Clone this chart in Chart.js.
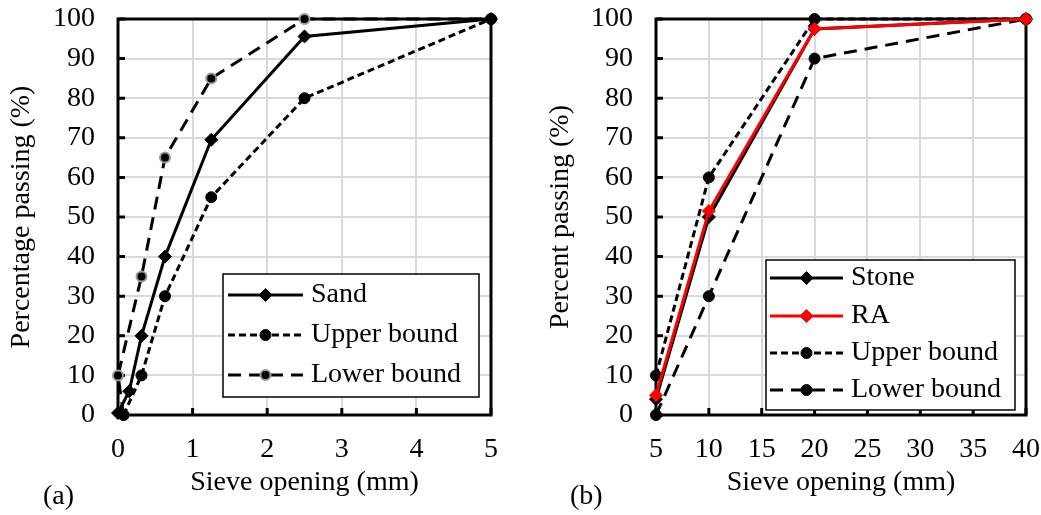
<!DOCTYPE html>
<html>
<head>
<meta charset="utf-8">
<script src="https://cdn.jsdelivr.net/npm/chart.js@4.4.0/dist/chart.umd.min.js"></script>
<style>
  html, body { margin: 0; padding: 0; background: #fff; }
  #wrap { position: relative; width: 1041px; height: 515px; overflow: hidden; }
  canvas { position: absolute; top: 0; }
  #chartA { left: 0; }
  #chartB { left: 520px; }
  .tag { position: absolute; top: 480px; font: 28px "Liberation Serif", serif; line-height: 30px; color: #000; }
</style>
</head>
<body>
<div id="wrap">
  <canvas id="chartA" width="520" height="515"></canvas>
  <canvas id="chartB" width="521" height="515"></canvas>
  <div class="tag" style="left:43px">(a)</div>
  <div class="tag" style="left:570px">(b)</div>
</div>
<script>
// Fine aggregate (sand) grading
const sandSize = [0, 0.15, 0.315, 0.63, 1.25, 2.5, 5];
const sandPass = [0.5, 6, 20, 40, 69.5, 95.6, 100];
const fineUpperSize = [0.075, 0.315, 0.63, 1.25, 2.5, 5];
const fineUpperPass = [0, 10, 30, 55, 80, 100];
const fineLowerSize = [0.075, 0, 0.315, 0.63, 1.25, 2.5, 5];
const fineLowerPass = [0, 10, 35, 65, 85, 100, 100];

// Coarse aggregate grading
const coarseSize = [5, 10, 20, 40];
const stonePass = [4, 50, 97.5, 100];
const raPass = [5, 51.5, 97.5, 100];
const coarseUpperPass = [10, 60, 100, 100];
const coarseLowerPass = [0, 30, 90, 100];

const yTicks = [0, 10, 20, 30, 40, 50, 60, 70, 80, 90, 100];

const FONT = { family: '"Liberation Serif", serif', size: 28 };
const GRID = '#d9d9d9';

const pts = (xs, ys) => xs.map((x, i) => ({ x, y: ys[i] }));

// black box round the plot area, with inward tick marks on the left and bottom
const frame = {
  id: 'frame',
  beforeDatasetsDraw(chart) {
    const { ctx, chartArea: a, scales: { x, y } } = chart;
    ctx.save();
    ctx.strokeStyle = '#000';
    ctx.lineWidth = 3;
    ctx.strokeRect(a.left, a.top, a.right - a.left, a.bottom - a.top);
    ctx.beginPath();
    y.ticks.forEach(t => {
      const py = y.getPixelForValue(t.value);
      ctx.moveTo(a.left, py); ctx.lineTo(a.left + 7, py);
    });
    x.ticks.forEach(t => {
      const px = x.getPixelForValue(t.value);
      ctx.moveTo(px, a.bottom); ctx.lineTo(px, a.bottom - 7);
    });
    ctx.stroke();
    ctx.restore();
  }
};

// boxed legend with dashed samples and a marker in the middle
const boxLegend = {
  id: 'boxLegend',
  afterDatasetsDraw(chart, args, opts) {
    const ctx = chart.ctx;
    const b = opts.box;
    ctx.save();
    ctx.fillStyle = '#fff';
    ctx.fillRect(b.left, b.top, b.right - b.left, b.bottom - b.top);
    ctx.strokeStyle = '#000';
    ctx.lineWidth = 1.5;
    ctx.strokeRect(b.left, b.top, b.right - b.left, b.bottom - b.top);
    chart.data.datasets.forEach((ds, i) => {
      const y = opts.rows[i];
      ctx.setLineDash(ds.borderDash || []);
      ctx.strokeStyle = ds.borderColor;
      ctx.lineWidth = ds.borderWidth;
      ctx.beginPath();
      ctx.moveTo(opts.x0, y);
      ctx.lineTo(opts.x1, y);
      ctx.stroke();
      ctx.setLineDash([]);
      ctx.fillStyle = ds.pointBackgroundColor;
      ctx.strokeStyle = ds.pointBorderColor;
      ctx.lineWidth = ds.pointBorderWidth;
      Chart.helpers.drawPoint(ctx, {
        pointStyle: ds.pointStyle, radius: ds.pointRadius, borderWidth: ds.pointBorderWidth, rotation: 0
      }, (opts.x0 + opts.x1) / 2, y);
      ctx.fillStyle = '#000';
      ctx.font = FONT.size + 'px ' + FONT.family;
      ctx.textBaseline = 'middle';
      ctx.textAlign = 'left';
      ctx.fillText(ds.label, opts.textX, y);
    });
    ctx.restore();
  }
};

function series(label, data, o) {
  return Object.assign({
    label, data,
    borderColor: '#000', borderWidth: 3, borderDash: [],
    pointStyle: 'circle', pointRadius: 5.5,
    pointBackgroundColor: '#000', pointBorderColor: '#000', pointBorderWidth: 1,
    pointHoverRadius: 5.5, fill: false, tension: 0, clip: false
  }, o);
}

function makeChart(id, datasets, xr, axisW, yTitle, yTitlePad, padRight, legend) {
  return new Chart(document.getElementById(id), {
    type: 'line',
    data: { datasets },
    options: {
      responsive: false,
      animation: false,
      devicePixelRatio: 1,
      layout: { padding: { top: 19, right: padRight, bottom: 0, left: 0 } },
      plugins: { legend: { display: false }, tooltip: { enabled: false }, boxLegend: legend },
      scales: {
        x: {
          type: 'linear', min: xr.min, max: xr.max,
          afterBuildTicks: s => { s.ticks = xr.ticks.map(v => ({ value: v })); },
          ticks: { color: '#000', font: FONT, padding: 18, maxRotation: 0 },
          grid: { color: GRID, lineWidth: 2, drawTicks: false },
          border: { display: false },
          title: { display: true, text: 'Sieve opening (mm)', color: '#000', font: FONT, padding: { top: 0, bottom: 16 } },
          afterFit: s => { s.height = 100; s.paddingLeft = 0; s.paddingRight = 0; }
        },
        y: {
          min: 0, max: 100,
          afterBuildTicks: s => { s.ticks = yTicks.map(v => ({ value: v })); },
          ticks: { color: '#000', font: FONT, padding: 23 },
          grid: { color: GRID, lineWidth: 2, drawTicks: false },
          border: { display: false },
          title: { display: true, text: yTitle, color: '#000', font: FONT, padding: { top: yTitlePad, bottom: 0 } },
          afterFit: s => { s.width = axisW; s.paddingTop = 0; s.paddingBottom = 0; }
        }
      }
    },
    plugins: [frame, boxLegend]
  });
}

makeChart('chartA', [
  series('Sand', pts(sandSize, sandPass), { pointStyle: 'rectRot', pointRadius: 6.5 }),
  series('Upper bound', pts(fineUpperSize, fineUpperPass), { borderDash: [7, 4] }),
  series('Lower bound', pts(fineLowerSize, fineLowerPass), {
    borderDash: [13, 8], pointRadius: 5, pointBorderColor: '#9a9a9a', pointBorderWidth: 2
  })
], { min: 0, max: 5, ticks: [0, 1, 2, 3, 4, 5] }, 118, 'Percentage passing (%)', 5, 29, {
  box: { left: 223, top: 274, right: 479, bottom: 397 },
  rows: [295, 335, 375], x0: 228, x1: 303, textX: 311
});

makeChart('chartB', [
  series('Stone', pts(coarseSize, stonePass), { pointStyle: 'rectRot', pointRadius: 6.5, order: 1 }),
  series('RA', pts(coarseSize, raPass), {
    pointStyle: 'rectRot', pointRadius: 6.5, order: 0,
    borderColor: '#ff0000', pointBackgroundColor: '#ff0000', pointBorderColor: '#ff0000'
  }),
  series('Upper bound', pts(coarseSize, coarseUpperPass), { borderDash: [7, 4], order: 1 }),
  series('Lower bound', pts(coarseSize, coarseLowerPass), { borderDash: [13, 8], order: 1 })
], { min: 5, max: 40, ticks: [5, 10, 15, 20, 25, 30, 35, 40] }, 136, 'Percent passing (%)', 24, 15, {
  box: { left: 246, top: 260, right: 495, bottom: 410 },
  rows: [278, 316, 353, 390], x0: 250, x1: 323, textX: 331
});
</script>
</body>
</html>
